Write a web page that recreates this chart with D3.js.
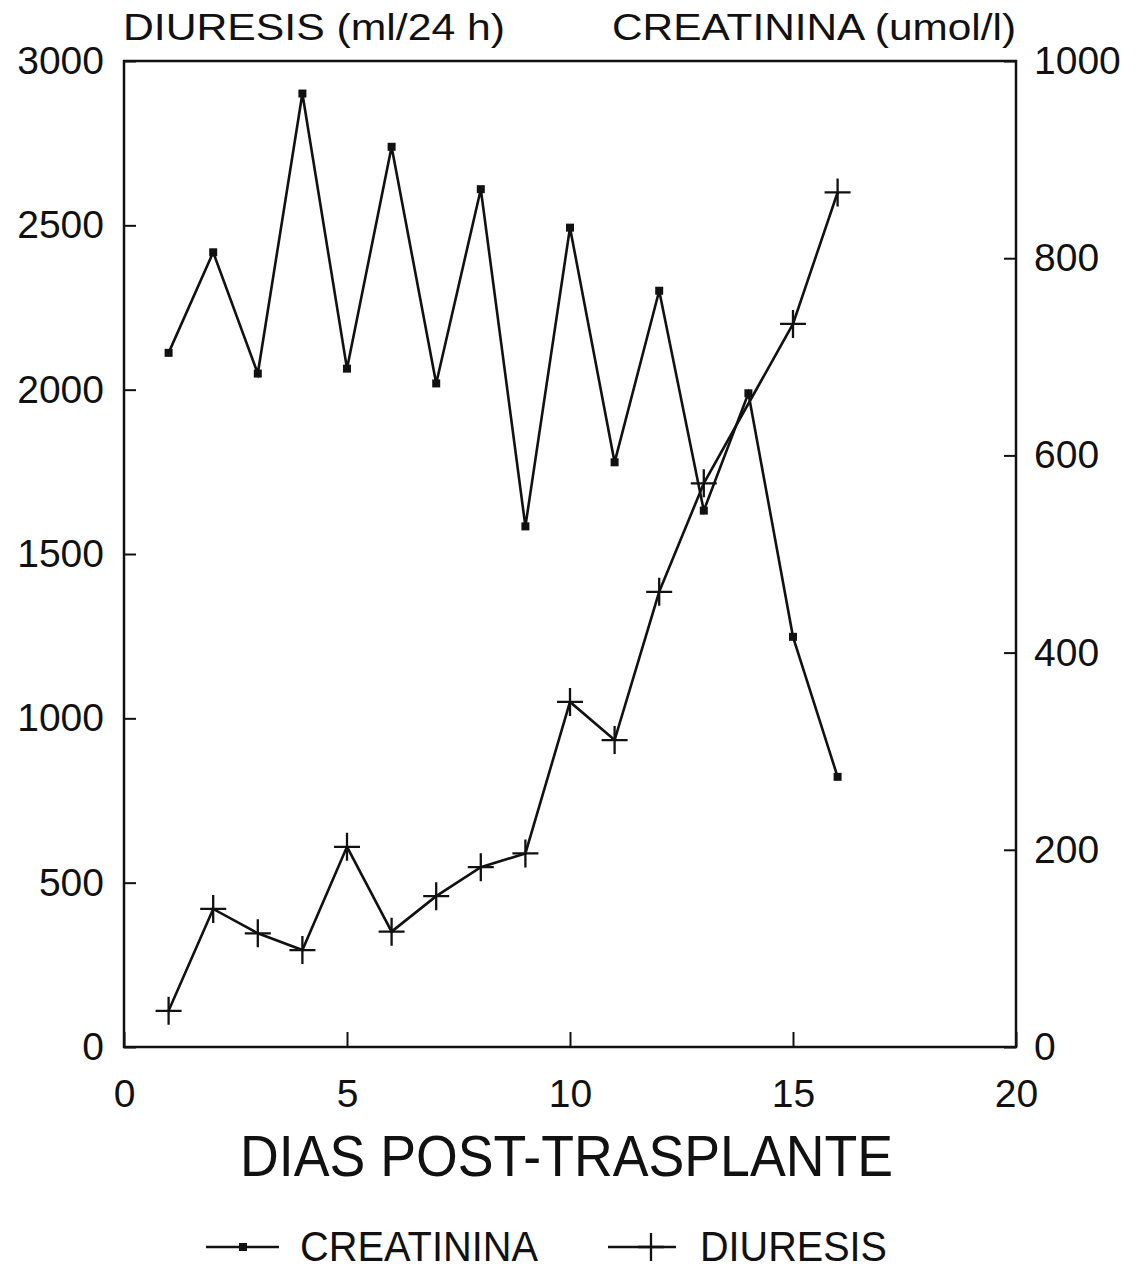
<!DOCTYPE html>
<html>
<head>
<meta charset="utf-8">
<script src="https://cdn.jsdelivr.net/npm/d3@7"></script>
<style>
  body { margin: 0; background: #fff; }
  text { font-family: "Liberation Sans", Arial, sans-serif; fill: #111; }
</style>
</head>
<body>
<svg id="chart" width="1143" height="1270"></svg>
<script>
// Days after transplant
const days = [1, 2, 3, 4, 5, 6, 7, 8, 9, 10, 11, 12, 13, 14, 15, 16];
// Serum creatinine (umol/l), right axis
const creatinina = [704, 806, 683, 967, 688, 913, 673, 870, 528, 831, 593, 767, 544, 663, 416, 274];
// Urine output (ml/24 h), left axis
const diuresisDays = [1, 2, 3, 4, 5, 6, 7, 8, 9, 10, 11, 12, 13, 15, 16];
const diuresis = [110, 420, 346, 295, 609, 351, 459, 547, 589, 1050, 934, 1385, 1715, 2200, 2600];

const xTicks = [0, 5, 10, 15, 20];
const leftTicks = [0, 500, 1000, 1500, 2000, 2500, 3000];
const rightTicks = [0, 200, 400, 600, 800, 1000];

const svg = d3.select("#chart");
const ink = "#111";

const frame = { left: 124, right: 1016, top: 61, bottom: 1047 };

const x = d3.scaleLinear().domain([0, 20]).range([frame.left, frame.right]);
const yL = d3.scaleLinear().domain([0, 3000]).range([frame.bottom, frame.top]);
const yR = d3.scaleLinear().domain([0, 1000]).range([frame.bottom, frame.top]);

// Axes with inward ticks
const axisFont = 39;

const gLeft = svg.append("g").attr("transform", `translate(${frame.left},0)`)
  .call(d3.axisLeft(yL).tickValues(leftTicks).tickFormat(d3.format("d"))
    .tickSize(-12).tickPadding(20));
const gRight = svg.append("g").attr("transform", `translate(${frame.right},0)`)
  .call(d3.axisRight(yR).tickValues(rightTicks).tickFormat(d3.format("d"))
    .tickSize(-12).tickPadding(18));
const gBottom = svg.append("g").attr("transform", `translate(0,${frame.bottom})`)
  .call(d3.axisBottom(x).tickValues(xTicks).tickFormat(d3.format("d"))
    .tickSize(-15).tickPadding(32));

[gLeft, gRight, gBottom].forEach(g => {
  g.select(".domain").remove();
  g.selectAll(".tick line").attr("stroke", ink).attr("stroke-width", 2);
  g.selectAll(".tick text")
    .attr("font-size", axisFont)
    .attr("font-family", '"Liberation Sans", Arial, sans-serif')
    .attr("fill", ink);
});

// Plot frame
svg.append("rect")
  .attr("x", frame.left).attr("y", frame.top)
  .attr("width", frame.right - frame.left)
  .attr("height", frame.bottom - frame.top)
  .attr("fill", "none").attr("stroke", ink).attr("stroke-width", 2.5);

// Axis titles
svg.append("text").attr("x", 123).attr("y", 40)
  .attr("font-size", 37).attr("textLength", 382).attr("lengthAdjust", "spacingAndGlyphs")
  .text("DIURESIS (ml/24 h)");
svg.append("text").attr("x", 612).attr("y", 40)
  .attr("font-size", 37).attr("textLength", 404).attr("lengthAdjust", "spacingAndGlyphs")
  .text("CREATININA (umol/l)");
svg.append("text").attr("x", 240).attr("y", 1176)
  .attr("font-size", 57).attr("textLength", 653).attr("lengthAdjust", "spacingAndGlyphs")
  .text("DIAS POST-TRASPLANTE");

// Series lines
const creatPts = days.map((d, i) => [d, creatinina[i]]);
const diurPts = diuresisDays.map((d, i) => [d, diuresis[i]]);

svg.append("path")
  .attr("d", d3.line().x(d => x(d[0])).y(d => yR(d[1]))(creatPts))
  .attr("fill", "none").attr("stroke", ink).attr("stroke-width", 2.6)
  .attr("stroke-linejoin", "miter");
svg.append("path")
  .attr("d", d3.line().x(d => x(d[0])).y(d => yL(d[1]))(diurPts))
  .attr("fill", "none").attr("stroke", ink).attr("stroke-width", 2.6);

// Markers
const sq = 8;
function square(g, cx, cy) {
  g.append("rect").attr("x", cx - sq / 2).attr("y", cy - sq / 2)
    .attr("width", sq).attr("height", sq).attr("fill", ink);
}
function cross(g, cx, cy) {
  g.append("path")
    .attr("d", `M${cx - 13},${cy}H${cx + 13}M${cx},${cy - 14}V${cy + 14}`)
    .attr("stroke", ink).attr("stroke-width", 2.3).attr("fill", "none");
}
const gMarks = svg.append("g");
creatPts.forEach(p => square(gMarks, x(p[0]), yR(p[1])));
diurPts.forEach(p => cross(gMarks, x(p[0]), yL(p[1])));

// Legend
const legY = 1247;
const gLeg = svg.append("g");
gLeg.append("line").attr("x1", 206).attr("x2", 279).attr("y1", legY).attr("y2", legY)
  .attr("stroke", ink).attr("stroke-width", 2.4);
square(gLeg, 243, legY);
gLeg.append("text").attr("x", 300).attr("y", 1261)
  .attr("font-size", 42).attr("textLength", 238).attr("lengthAdjust", "spacingAndGlyphs")
  .text("CREATININA");
gLeg.append("line").attr("x1", 608).attr("x2", 676).attr("y1", legY).attr("y2", legY)
  .attr("stroke", ink).attr("stroke-width", 2.4);
cross(gLeg, 651, legY);
gLeg.append("text").attr("x", 700).attr("y", 1261)
  .attr("font-size", 42).attr("textLength", 187).attr("lengthAdjust", "spacingAndGlyphs")
  .text("DIURESIS");
</script>
</body>
</html>
